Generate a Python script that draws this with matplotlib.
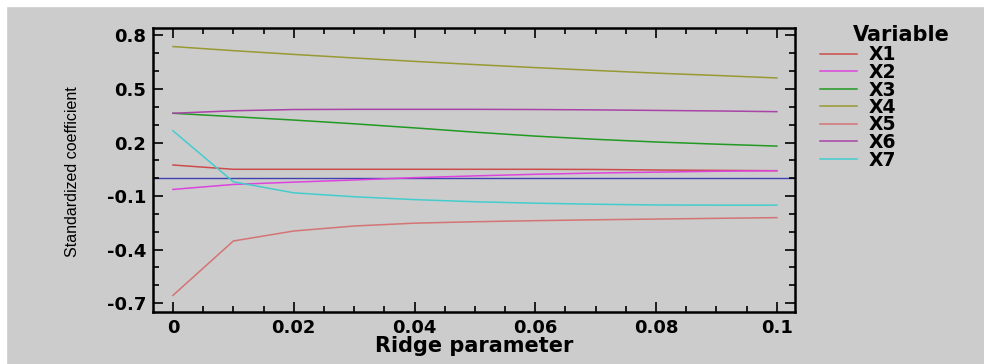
import numpy as np
import matplotlib.pyplot as plt
from matplotlib.ticker import FixedLocator, MultipleLocator, FuncFormatter
from matplotlib.patches import Rectangle

plt.rcParams['font.family'] = ['DejaVu Sans']
plt.rcParams['axes.unicode_minus'] = False

# Ridge trace
ridge = [0, 0.01, 0.02, 0.03, 0.04, 0.05, 0.06, 0.07, 0.08, 0.09, 0.1]
x1 = [0.074, 0.050, 0.050, 0.050, 0.050, 0.050, 0.050, 0.049, 0.046, 0.044, 0.042]
x2 = [-0.063, -0.035, -0.022, -0.010, 0.003, 0.013, 0.022, 0.029, 0.034, 0.039, 0.042]
x3 = [0.364, 0.345, 0.326, 0.305, 0.282, 0.258, 0.236, 0.218, 0.203, 0.191, 0.180]
x4 = [0.738, 0.715, 0.694, 0.674, 0.655, 0.637, 0.620, 0.604, 0.589, 0.576, 0.562]
x5 = [-0.657, -0.352, -0.296, -0.268, -0.252, -0.244, -0.238, -0.233, -0.229, -0.225, -0.221]
x6 = [0.364, 0.378, 0.385, 0.386, 0.386, 0.386, 0.385, 0.383, 0.380, 0.377, 0.373]
x7 = [0.266, -0.020, -0.082, -0.104, -0.120, -0.132, -0.140, -0.146, -0.150, -0.151, -0.151]

names = ['X1', 'X2', 'X3', 'X4', 'X5', 'X6', 'X7']
series = [x1, x2, x3, x4, x5, x6, x7]
colors = ['#cc4c4c', '#dd44dd', '#229922', '#999933', '#d47474', '#a844a8', '#44cccc']

bg = '#cccccc'
fig = plt.figure(figsize=(9.84, 3.64), dpi=100, facecolor=bg)
# white strips at the top and left edge
fig.patches.append(Rectangle((0, 0), 6 / 984, 1, transform=fig.transFigure, color='white', zorder=-1))
fig.patches.append(Rectangle((0, 1 - 6 / 364), 1, 6 / 364, transform=fig.transFigure, color='white', zorder=-1))

ax = fig.add_axes([153 / 984, 1 - 312 / 364, (795 - 153) / 984, (312 - 28) / 364])
ax.set_facecolor(bg)

ax.axhline(0, color='#4040b0', lw=1.0, zorder=1)
for name, vals, c in zip(names, series, colors):
    ax.plot(ridge, vals, color=c, lw=1.1, label=name, zorder=2)

ax.set_xlim(-0.0033, 0.103)
ax.set_ylim(-0.75, 0.842)

ax.xaxis.set_major_locator(MultipleLocator(0.02))
ax.xaxis.set_minor_locator(MultipleLocator(0.005))
ax.xaxis.set_major_formatter(FuncFormatter(lambda v, p: '%g' % round(v, 3)))
ax.yaxis.set_major_locator(FixedLocator([-0.7, -0.4, -0.1, 0.2, 0.5, 0.8]))
ax.yaxis.set_minor_locator(MultipleLocator(0.1))
ax.yaxis.set_major_formatter(FuncFormatter(lambda v, p: '%.1f' % v))

ax.tick_params(which='both', direction='in', top=True, right=True, width=1.2, colors='black')
ax.tick_params(which='major', length=7, labelsize=13, pad=5)
ax.tick_params(which='minor', length=4)
for lbl in ax.get_xticklabels() + ax.get_yticklabels():
    lbl.set_fontweight('bold')
for sp in ax.spines.values():
    sp.set_linewidth(1.8)

ax.set_xlabel('Ridge parameter', fontsize=15, fontweight='bold', labelpad=-1)
ax.set_ylabel('Standardized coefficient', fontsize=11.5,
              family=['Liberation Sans Narrow', 'Liberation Sans', 'DejaVu Sans'])
ax.yaxis.set_label_coords(-0.114, 0.495)

fig.text(901 / 984, 1 - 35 / 364, 'Variable', ha='center', va='center',
         fontsize=15, fontweight='bold')
leg = ax.legend(loc='upper left', bbox_to_anchor=(812 / 984, 1 - 38 / 364),
                bbox_transform=fig.transFigure, frameon=False,
                prop={'weight': 'bold', 'size': 13.5}, handlelength=2.0,
                labelspacing=-0.08, handletextpad=0.6, borderaxespad=0)

fig.savefig('out.png', dpi=100, facecolor=bg)
